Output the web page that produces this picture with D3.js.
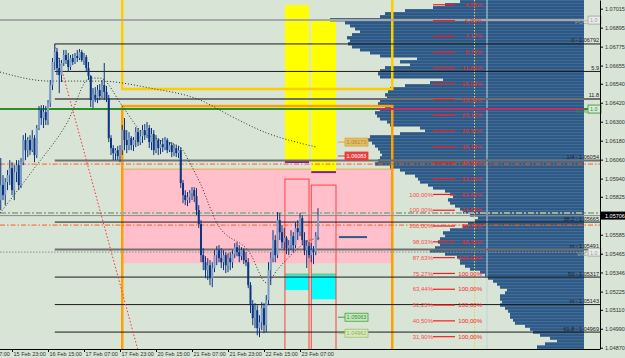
<!DOCTYPE html>
<html>
<head>
<meta charset="utf-8">
<script src="https://cdn.jsdelivr.net/npm/d3@7"></script>
<style>
  body { margin: 0; background: #d8e4d6; }
  svg text { font-family: "Liberation Sans", Arial, sans-serif; }
</style>
</head>
<body>
<svg id="chart" width="625" height="358"></svg>
<script>
// ---------- DATA ----------
// hourly candles [open, high, low, close]
const candles = [
  [1.05804,1.06070,1.05741,1.05899],[1.05899,1.05962,1.05804,1.05836],[1.05836,1.05943,1.05772,1.05918],
  [1.05918,1.05994,1.05867,1.05962],[1.05962,1.06057,1.05899,1.06006],[1.06006,1.06044,1.05836,1.05867],
  [1.05867,1.06025,1.05804,1.05981],[1.05981,1.06057,1.05918,1.06025],[1.06025,1.06057,1.05867,1.05899],
  [1.05899,1.06070,1.05880,1.06044],[1.06044,1.06215,1.06025,1.06184],[1.06184,1.06228,1.06057,1.06120],
  [1.06120,1.06203,1.06076,1.06184],[1.06184,1.06215,1.06089,1.06120],[1.06120,1.06247,1.06108,1.06196],
  [1.06196,1.06215,1.06044,1.06089],[1.06089,1.06279,1.06070,1.06260],[1.06260,1.06399,1.06247,1.06374],
  [1.06374,1.06405,1.06279,1.06323],[1.06323,1.06405,1.06260,1.06361],[1.06361,1.06399,1.06279,1.06310],
  [1.06310,1.06437,1.06279,1.06418],[1.06418,1.06564,1.06393,1.06532],[1.06532,1.06703,1.06500,1.06678],
  [1.06678,1.06792,1.06627,1.06741],[1.06741,1.06766,1.06595,1.06640],[1.06640,1.06703,1.06481,1.06595],
  [1.06595,1.06690,1.06551,1.06671],[1.06671,1.06754,1.06652,1.06722],[1.06722,1.06754,1.06665,1.06690],
  [1.06690,1.06735,1.06614,1.06646],[1.06646,1.06722,1.06627,1.06703],[1.06703,1.06728,1.06659,1.06678],
  [1.06678,1.06735,1.06665,1.06716],[1.06716,1.06754,1.06678,1.06703],[1.06703,1.06760,1.06690,1.06741],
  [1.06741,1.06754,1.06678,1.06690],[1.06690,1.06735,1.06659,1.06709],[1.06709,1.06722,1.06614,1.06640],
  [1.06640,1.06678,1.06564,1.06589],[1.06589,1.06595,1.06393,1.06437],[1.06437,1.06513,1.06386,1.06469],
  [1.06469,1.06519,1.06424,1.06450],[1.06450,1.06532,1.06418,1.06500],[1.06500,1.06538,1.06437,1.06462],
  [1.06462,1.06564,1.06450,1.06532],[1.06532,1.06671,1.06437,1.06488],[1.06488,1.06526,1.06424,1.06450],
  [1.06450,1.06469,1.06171,1.06196],[1.06196,1.06215,1.06089,1.06133],[1.06133,1.06152,1.06057,1.06101],
  [1.06101,1.06133,1.06057,1.06120],[1.06120,1.06146,1.06057,1.06082],[1.06082,1.06152,1.06044,1.06120],
  [1.06120,1.06279,1.06089,1.06247],[1.06247,1.06323,1.06120,1.06184],[1.06184,1.06247,1.06101,1.06152],
  [1.06152,1.06234,1.06120,1.06196],[1.06196,1.06209,1.06120,1.06152],[1.06152,1.06203,1.06114,1.06184],
  [1.06184,1.06266,1.06139,1.06234],[1.06234,1.06260,1.06146,1.06171],[1.06171,1.06247,1.06152,1.06209],
  [1.06209,1.06279,1.06165,1.06247],[1.06247,1.06285,1.06184,1.06215],[1.06215,1.06298,1.06196,1.06260],
  [1.06260,1.06279,1.06133,1.06171],[1.06171,1.06260,1.06120,1.06222],[1.06222,1.06247,1.06089,1.06120],
  [1.06120,1.06215,1.06101,1.06184],[1.06184,1.06196,1.06089,1.06133],[1.06133,1.06184,1.06095,1.06158],
  [1.06158,1.06196,1.06108,1.06139],[1.06139,1.06203,1.06120,1.06184],[1.06184,1.06196,1.06101,1.06120],
  [1.06120,1.06171,1.06108,1.06152],[1.06152,1.06171,1.06076,1.06108],[1.06108,1.06158,1.06082,1.06133],
  [1.06133,1.06152,1.06076,1.06101],[1.06101,1.06146,1.06070,1.06120],[1.06120,1.06139,1.05880,1.05912],
  [1.05912,1.05931,1.05785,1.05836],[1.05836,1.05867,1.05772,1.05804],[1.05804,1.05855,1.05766,1.05823],
  [1.05823,1.05867,1.05785,1.05848],[1.05848,1.05886,1.05804,1.05867],[1.05867,1.05886,1.05791,1.05829],
  [1.05829,1.05880,1.05709,1.05741],[1.05741,1.05772,1.05627,1.05652],[1.05652,1.05677,1.05411,1.05456],
  [1.05456,1.05500,1.05361,1.05411],[1.05411,1.05449,1.05310,1.05361],[1.05361,1.05437,1.05298,1.05392],
  [1.05392,1.05424,1.05266,1.05310],[1.05310,1.05411,1.05253,1.05374],[1.05374,1.05487,1.05348,1.05456],
  [1.05456,1.05513,1.05392,1.05487],[1.05487,1.05519,1.05411,1.05437],[1.05437,1.05500,1.05374,1.05411],
  [1.05411,1.05487,1.05361,1.05456],[1.05456,1.05475,1.05342,1.05392],[1.05392,1.05468,1.05348,1.05437],
  [1.05437,1.05475,1.05361,1.05411],[1.05411,1.05487,1.05374,1.05462],[1.05462,1.05532,1.05437,1.05506],
  [1.05506,1.05538,1.05449,1.05475],[1.05475,1.05519,1.05411,1.05449],[1.05449,1.05506,1.05424,1.05487],
  [1.05487,1.05500,1.05399,1.05424],[1.05424,1.05475,1.05386,1.05411],[1.05411,1.05437,1.05247,1.05266],
  [1.05266,1.05285,1.05089,1.05139],[1.05139,1.05171,1.05013,1.05057],[1.05057,1.05152,1.04994,1.05108],
  [1.05108,1.05139,1.04949,1.04994],[1.04994,1.05076,1.04937,1.05032],[1.05032,1.05158,1.04981,1.05120],
  [1.05120,1.05152,1.04962,1.05013],[1.05013,1.05203,1.04968,1.05171],[1.05171,1.05411,1.05139,1.05361],
  [1.05361,1.05475,1.05266,1.05437],[1.05437,1.05614,1.05411,1.05551],[1.05551,1.05582,1.05411,1.05456],
  [1.05456,1.05728,1.05437,1.05677],[1.05677,1.05722,1.05551,1.05601],[1.05601,1.05646,1.05500,1.05538],
  [1.05538,1.05627,1.05487,1.05563],[1.05563,1.05576,1.05462,1.05500],[1.05500,1.05551,1.05456,1.05519],
  [1.05519,1.05614,1.05487,1.05576],[1.05576,1.05601,1.05475,1.05519],[1.05519,1.05665,1.05500,1.05627],
  [1.05627,1.05677,1.05551,1.05601],[1.05601,1.05722,1.05576,1.05690],[1.05690,1.05709,1.05519,1.05551],
  [1.05551,1.05601,1.05456,1.05487],[1.05487,1.05551,1.05374,1.05513],[1.05513,1.05538,1.05437,1.05456],
  [1.05456,1.05532,1.05411,1.05487],[1.05487,1.05513,1.05399,1.05475],[1.05475,1.05601,1.05456,1.05576],
  [1.05576,1.05753,1.05551,1.05706]
];

const timeTickBars = [-11, 5, 21, 37, 53, 69, 85, 101, 117, 133];
const timeTickLabels = ["15 Feb 07:00", "15 Feb 23:00", "16 Feb 15:00", "17 Feb 07:00", "17 Feb 23:00",
  "20 Feb 15:00", "21 Feb 07:00", "21 Feb 23:00", "22 Feb 15:00", "23 Feb 07:00"];
const priceTicks = [1.07015, 1.06895, 1.06775, 1.06655, 1.06540, 1.06420, 1.06300, 1.06180, 1.06060,
  1.05940, 1.05825, 1.05585, 1.05465, 1.05346, 1.05225, 1.05110, 1.04990, 1.04870];
const bidPrice = 1.05706;

// fibonacci grid from the swing high
const fibStartBar = 24;
const fibPrices = [1.06792, 1.06618, 1.06444, 1.06054, 1.05665, 1.05491, 1.05317, 1.05143, 1.04969];
const fibLabels = ["0 - 1.06792", "5.9", "11.8", "1/4 - 1.06054", "38.2 - 1.05665", "m - 1.05491",
  "50 - 1.05317", "m - 1.05143", "61.8 - 1.04969"];

// volume profile (price bins from the top)
const profileTop = 1.07070;
const profileStep = 0.00019;
const profileVolumes = [124,139,151,179,199,204,254,239,234,229,224,232,237,234,236,232,224,214,204,167,
  184,174,199,204,206,204,141,154,179,194,196,199,197,204,206,199,204,209,207,204,197,194,164,159,184,
  214,217,212,209,206,204,202,204,206,209,194,184,179,169,166,164,156,151,139,134,131,136,134,129,124,
  121,114,106,109,116,121,134,141,139,144,146,144,149,154,139,127,124,124,119,114,104,99,96,91,87,84,
  77,79,84,84,82,84,79,76,74,74,71,69,59,54,51,44,34,27,39,47,47];
const pocPrice = 1.06943;
const valPrice = 1.05475;
const midPrice = 1.06380;

// percentage ladder
const ladderTop = 1.07040;
const ladderStep = 0.00100;
const ladderRight = ["4,68%","6,09%","7,17%","8,74%","11,83%","15,09%","18,53%","23,12%","29,57%","35,48%",
  "45,59%","53,06%","63,62%","74,55%","88,71%","98,92%","100,00%","100,00%","100,00%","100,00%","100,00%","100,00%"];
const ladderLeftFrom = 12;
const ladderLeft = ["100,00%","100,00%","100,00%","98,03%","87,63%","75,27%","63,44%","51,25%","40,50%","31,90%"];

// zones
const zoneBars = [54, 174];
const upperZone = [1.07300, 1.06507];
const lowerZone = [1.06399, 1.04600];
const pinkZone = [1.06000, 1.05405];
const sessionBars = [[126.3, 137], [138, 149]];
const sessionHighs = [1.07038, 1.06937];
const sessionLows = [1.06045, 1.05981];
const rangeTops = [1.05937, 1.05899];
const cyanTops = [1.05336, 1.05336];
const cyanBottoms = [1.05235, 1.05177];

// other levels
const dashOrange = [1.06032, 1.05646];
const dashGreen = 1.05722;
const blueLevel = { from: 150.3, to: 162.8, price: 1.05570 };
const tagPrices = [1.06171, 1.06083, 1.05063, 1.04962];
const tagLabels = ["1.06173", "1.06083", "1.05063", "1.04962"];

// moving averages [bar, price]
const maSlow = [[-0.3,1.06614],[21.9,1.06557],[44.1,1.06557],[66.3,1.06513],[88.6,1.06437],[103.2,1.06329],
  [118.3,1.06228],[133,1.06165],[140.6,1.06139]];
const maFast = [[-0.3,1.05722],[14.3,1.05994],[29.4,1.06291],[39.7,1.06576],[44.1,1.06576],[54.3,1.06393],
  [61.9,1.06247],[70.8,1.06184],[79.7,1.06139],[84.1,1.06038],[88.6,1.05912],[96.1,1.05658],[110.8,1.05468],
  [118.3,1.05279],[122.8,1.05361],[129.9,1.05468],[137.4,1.05551],[141.9,1.05563]];
const redDiag = [[24, 1.06792], [61, 1.04854]];

// ---------- CHART ----------
const W = 625, H = 358, plotR = 600, plotB = 349;
const svg = d3.select("#chart");

const x = d3.scaleLinear().domain([0, 141]).range([0.75, 318]);
const y = d3.scaleLinear().domain([1.04862, 1.07070]).range([plotB, 0]);
const vol = d3.scaleLinear().domain([0, 254]).range([584, 330]);

svg.append("defs").append("clipPath").attr("id", "plot")
  .append("rect").attr("width", plotR).attr("height", plotB);

svg.append("rect").attr("width", W).attr("height", H).attr("fill", "#d8e4d6");

const g = svg.append("g").attr("clip-path", "url(#plot)");

// pink zone
g.append("rect")
  .attr("x", x(zoneBars[0])).attr("width", x(zoneBars[1]) - x(zoneBars[0]))
  .attr("y", y(pinkZone[0])).attr("height", y(pinkZone[1]) - y(pinkZone[0]))
  .attr("fill", "#ffc0cb");
g.append("line")
  .attr("x1", x(zoneBars[0])).attr("x2", x(zoneBars[1]))
  .attr("y1", y(pinkZone[0])).attr("y2", y(pinkZone[0]))
  .attr("stroke", "#e8b870").attr("stroke-width", 1.5);

// yellow session bars
sessionBars.forEach((b, i) => {
  g.append("rect")
    .attr("x", x(b[0])).attr("width", x(b[1]) - x(b[0]))
    .attr("y", y(sessionHighs[i])).attr("height", y(sessionLows[i]) - y(sessionHighs[i]))
    .attr("fill", "#ffff00");
  g.append("line")
    .attr("x1", x(b[0])).attr("x2", x(b[1]))
    .attr("y1", y(sessionLows[i])).attr("y2", y(sessionLows[i]))
    .attr("stroke", "#8a1a9a").attr("stroke-width", 2);
  g.append("rect")
    .attr("x", x(b[0])).attr("width", x(b[1]) - x(b[0]))
    .attr("y", y(cyanTops[i])).attr("height", y(cyanBottoms[i]) - y(cyanTops[i]))
    .attr("fill", "#00ffff");
  g.append("line")
    .attr("x1", x(b[0])).attr("x2", x(b[1]))
    .attr("y1", y(cyanTops[i])).attr("y2", y(cyanTops[i]))
    .attr("stroke", "#b8a040").attr("stroke-width", 1);
  g.append("rect")
    .attr("x", x(b[0])).attr("width", x(b[1]) - x(b[0]))
    .attr("y", y(rangeTops[i])).attr("height", plotB + 5 - y(rangeTops[i]))
    .attr("fill", "none").attr("stroke", "#ff4040").attr("stroke-width", 1);
});

// volume profile
const rows = profileVolumes.map((v, i) => ({
  p0: profileTop - i * profileStep, p1: profileTop - (i + 1) * profileStep, v
}));
g.append("g").selectAll("rect").data(rows).join("rect")
  .attr("x", d => vol(d.v))
  .attr("width", d => 584 - vol(d.v))
  .attr("y", d => y(d.p0))
  .attr("height", d => y(d.p1) - y(d.p0) + 0.4)
  .attr("fill", "#2d5986");
g.append("g").selectAll("line").data(rows).join("line")
  .attr("x1", d => vol(d.v)).attr("x2", 584)
  .attr("y1", d => y(d.p0) + 0.5).attr("y2", d => y(d.p0) + 0.5)
  .attr("stroke", "#5a80a8").attr("stroke-width", 0.4);

// vertical markers in profile
g.append("line").attr("x1", 487).attr("x2", 487).attr("y1", 0).attr("y2", plotB)
  .attr("stroke", "#c4d4dc").attr("stroke-width", 1);
g.append("line").attr("x1", 474.5).attr("x2", 474.5).attr("y1", 0).attr("y2", plotB)
  .attr("stroke", "#d8d840").attr("stroke-width", 1).attr("stroke-dasharray", "1.5,1.5");

// frames
g.append("rect")
  .attr("x", x(zoneBars[0])).attr("width", x(zoneBars[1]) - x(zoneBars[0]))
  .attr("y", y(upperZone[0])).attr("height", y(upperZone[1]) - y(upperZone[0]))
  .attr("fill", "none").attr("stroke", "#ffcc00").attr("stroke-width", 2.5);
g.append("rect")
  .attr("x", x(zoneBars[0])).attr("width", x(zoneBars[1]) - x(zoneBars[0]))
  .attr("y", y(lowerZone[0])).attr("height", y(lowerZone[1]) - y(lowerZone[0]))
  .attr("fill", "none").attr("stroke", "#ffa000").attr("stroke-width", 2.5);

// horizontal levels
function hline(p, x1, x2, color, w, dash) {
  g.append("line").attr("x1", x1).attr("x2", x2).attr("y1", y(p)).attr("y2", y(p))
    .attr("stroke", color).attr("stroke-width", w)
    .attr("stroke-dasharray", dash || null);
}
hline(pocPrice, 0, 584, "#a8a8a8", 2);
hline(midPrice, 0, plotR, "#2e8b2e", 2);
hline(midPrice, 377, 584, "#b8306c", 2);
dashOrange.forEach(p => hline(p, 0, plotR, "#ff5a1e", 1, "5,2,1.5,2"));
hline(dashGreen, 0, plotR, "#98b498", 2, "6,2,2,2");
hline(bidPrice, 0, plotR, "#8c8c8c", 1);
hline(valPrice, 0, plotR, "#909090", 1, "1.5,1.5");

const fibGray = [2, 3, 5];
fibPrices.forEach((p, i) => {
  const gray = fibGray.includes(i);
  hline(p, x(fibStartBar), plotR, gray ? "#707070" : "#1a1a1a", gray ? 2 : 1);
});

hline(blueLevel.price, x(blueLevel.from), x(blueLevel.to), "#2d5986", 2);

// moving averages
const line = d3.line().x(d => x(d[0])).y(d => y(d[1])).curve(d3.curveMonotoneX);
g.append("path").datum(maSlow).attr("d", line).attr("fill", "none")
  .attr("stroke", "#303030").attr("stroke-width", 1).attr("stroke-dasharray", "1,2");
g.append("path").datum(maFast).attr("d", line).attr("fill", "none")
  .attr("stroke", "#303030").attr("stroke-width", 1).attr("stroke-dasharray", "1,2");
g.append("path").datum(redDiag).attr("d", d3.line().x(d => x(d[0])).y(d => y(d[1])))
  .attr("fill", "none").attr("stroke", "#ff3030").attr("stroke-width", 1).attr("stroke-dasharray", "1.5,2");

// candles
const cg = g.append("g");
candles.forEach((c, i) => {
  const [o, h, l, cl] = c;
  const up = cl >= o;
  cg.append("line").attr("x1", x(i)).attr("x2", x(i)).attr("y1", y(h)).attr("y2", y(l))
    .attr("stroke", "#0b3580").attr("stroke-width", 1);
  cg.append("rect").attr("x", x(i) - 1).attr("width", 2)
    .attr("y", y(Math.max(o, cl))).attr("height", Math.max(0.8, Math.abs(y(o) - y(cl))))
    .attr("fill", up ? "#7e9cc6" : "#0b3580");
});

// percentage ladder
const lad = g.append("g").attr("font-size", 6);
ladderRight.forEach((t, i) => {
  const yy = y(ladderTop - i * ladderStep);
  lad.append("line").attr("x1", 433).attr("x2", 455).attr("y1", yy).attr("y2", yy)
    .attr("stroke", "#ff1a1a").attr("stroke-width", 1.2);
  lad.append("text").attr("x", 482).attr("y", yy).attr("dy", "0.35em")
    .attr("text-anchor", "end").attr("fill", "#ff2020").text(t);
});
ladderLeft.forEach((t, i) => {
  const yy = y(ladderTop - (i + ladderLeftFrom) * ladderStep);
  lad.append("text").attr("x", 433).attr("y", yy).attr("dy", "0.35em")
    .attr("text-anchor", "end").attr("fill", "#ff4a4a").text(t);
});

// price tags
const tagColors = [["#f0a020", "#d8c070", "#c08020"], ["#ff3030", "#e84040", "#ffffff"],
  ["#40a040", "#c8e8c0", "#309030"], ["#a0c060", "#d8e8c0", "#90b050"]];
tagPrices.forEach((p, i) => {
  const yy = y(p);
  const [ln, bg, tx] = tagColors[i];
  g.append("line").attr("x1", 338).attr("x2", 345).attr("y1", yy).attr("y2", yy)
    .attr("stroke", ln).attr("stroke-width", 1);
  g.append("rect").attr("x", 345).attr("y", yy - 4).attr("width", 23).attr("height", 8)
    .attr("fill", bg).attr("stroke", ln).attr("stroke-width", 0.8);
  g.append("text").attr("x", 356.5).attr("y", yy).attr("dy", "0.35em").attr("text-anchor", "middle")
    .attr("font-size", 5.5).attr("fill", tx).text(tagLabels[i]);
});

// right-side level labels
const lbl = svg.append("g").attr("font-size", 5.5);
fibPrices.forEach((p, i) => {
  lbl.append("text").attr("x", 599).attr("y", y(p) - 1.5).attr("text-anchor", "end")
    .attr("fill", "#202020").text(fibLabels[i]);
});
function sideTag(p, text, color, bg) {
  lbl.append("text").attr("x", 587).attr("y", y(p) + 4).attr("text-anchor", "end")
    .attr("fill", color).text(text);
  lbl.append("rect").attr("x", 588).attr("y", y(p) - 4).attr("width", 13).attr("height", 8)
    .attr("fill", bg).attr("stroke", color).attr("stroke-width", 0.8);
  lbl.append("text").attr("x", 590).attr("y", y(p) + 0.5).attr("dy", "0.35em").attr("fill", color).text("1.0");
}
sideTag(pocPrice, "POC", "#a0a0a0", "#e8ece8");
sideTag(midPrice, "50%", "#2e8b2e", "#d8ecd8");
sideTag(valPrice, "VAL", "#a0a0a0", "#e8ece8");

// axes
const axR = svg.append("g").attr("transform", `translate(${plotR},0)`)
  .call(d3.axisRight(y).tickValues(priceTicks).tickFormat(d3.format(".5f")).tickSize(3).tickSizeOuter(0));
axR.select(".domain").attr("stroke", "#000");
axR.selectAll("text").attr("font-size", 5.5).attr("fill", "#303030").attr("x", 5);

const axB = svg.append("g").attr("transform", `translate(0,${plotB})`)
  .call(d3.axisBottom(x).tickValues(timeTickBars).tickFormat((d, i) => timeTickLabels[i]).tickSize(3).tickSizeOuter(0));
axB.select(".domain").attr("stroke", "#000").attr("d", `M0,0.5H${plotR}`);
axB.selectAll("text").attr("font-size", 5.5).attr("fill", "#303030")
  .attr("text-anchor", "start").attr("x", 1).attr("y", 3).attr("dy", "0.71em");

// bid price tag
svg.append("rect").attr("x", plotR + 1).attr("y", y(bidPrice) - 4).attr("width", 24).attr("height", 8).attr("fill", "#000");
svg.append("text").attr("x", plotR + 5).attr("y", y(bidPrice)).attr("dy", "0.35em")
  .attr("font-size", 5.5).attr("fill", "#fff").text(d3.format(".5f")(bidPrice));
</script>
</body>
</html>
